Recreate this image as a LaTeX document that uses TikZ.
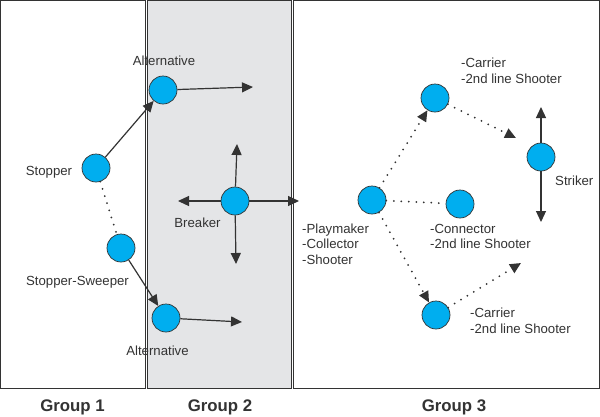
\documentclass[tikz,border=0pt]{standalone}
\usepackage{fontspec}
\setmainfont{Liberation Sans}
\usetikzlibrary{arrows.meta}
\definecolor{ink}{HTML}{333333}
\definecolor{ball}{HTML}{00AEEF}
\definecolor{zone}{HTML}{E4E5E7}
\begin{document}
\begin{tikzpicture}[x=1pt,y=-1pt,
  player/.style={circle,draw=ink,line width=0.7pt,fill=ball,minimum size=28pt,inner sep=0pt},
  lbl/.style={text=ink,font=\fontsize{13.2}{15.5}\selectfont,inner sep=0pt,align=left},
  grp/.style={text=ink,font=\fontsize{16.8}{18}\selectfont\bfseries,inner sep=0pt},
  zonebox/.style={draw=ink,line width=0.9pt},
  run/.style={draw=ink,line width=1.2pt,-{Triangle[length=11pt,width=10pt]}},
  pass/.style={draw=ink,line width=2pt,line cap=round,dash pattern=on 0pt off 7.5pt},
  passarrow/.style={pass,-{Triangle[length=11pt,width=10pt,line cap=butt]}}
]
\useasboundingbox (0,0) rectangle (600,416);
\fill[white] (0,0) rectangle (600,416);
% zones
\draw[zonebox] (0.5,0.5) rectangle (145,388);
\draw[zonebox,fill=zone] (147,0.5) rectangle (291,388);
\draw[zonebox] (293,0.5) rectangle (599,388);
\node[grp] (g1) at (72.5,407) {Group 1};
\node[grp] (g2) at (220,407) {Group 2};
\node[grp] (g3) at (454,407) {Group 3};
% players
\node[player] (altA) at (163,90) {};
\node[player] (stop) at (96,168) {};
\node[player] (sweep) at (121,248) {};
\node[player] (altB) at (166,318) {};
\node[player] (brk) at (235,201) {};
\node[player] (play) at (372,200) {};
\node[player] (conn) at (460,204) {};
\node[player] (carA) at (435,98) {};
\node[player] (carB) at (436,315) {};
\node[player] (strk) at (541,157) {};
% labels
\node[lbl] (lAltA) at (164,61) {Alternative};
\node[lbl] (lStop) at (49,172) {Stopper};
\node[lbl] (lSweep) at (77.5,282) {Stopper-Sweeper};
\node[lbl] (lAltB) at (157.5,351) {Alternative};
\node[lbl] (lBrk) at (197.5,223) {Breaker};
\node[lbl,anchor=west] (lCarA) at (461,71) {-Carrier\\-2nd line Shooter};
\node[lbl,anchor=west] (lStrk) at (555,181) {Striker};
\node[lbl,anchor=west] (lPlay) at (302,244) {-Playmaker\\-Collector\\-Shooter};
\node[lbl,anchor=west] (lConn) at (430,236.5) {-Connector\\-2nd line Shooter};
\node[lbl,anchor=west] (lCarB) at (470,321) {-Carrier\\-2nd line Shooter};
% free ends
\coordinate (eAltA) at (253,87);
\coordinate (eAltB) at (242,322);
\coordinate (bUp) at (237,144);
\coordinate (bLeft) at (178,201);
\coordinate (bRight) at (299,201);
\coordinate (bDown) at (236,264);
\coordinate (sUp) at (541,107);
\coordinate (sDown) at (541,222);
\coordinate (eCarA) at (516,138);
\coordinate (eCarB) at (521,263);
% runs
\draw[run] (altA) -- (eAltA);
\draw[run] (altB) -- (eAltB);
\draw[run] (stop) -- (altA);
\draw[run] (sweep) -- (altB);
\draw[run] (brk) -- (bUp);
\draw[run] (brk) -- (bLeft);
\draw[run] (brk) -- (bRight);
\draw[run] (brk) -- (bDown);
\draw[run] (strk) -- (sUp);
\draw[run] (strk) -- (sDown);
% passes
\draw[pass] (stop) -- (sweep);
\draw[pass] (play) -- (conn);
\draw[passarrow] (play) -- (carA);
\draw[passarrow] (play) -- (carB);
\draw[passarrow] (carA) -- (eCarA);
\draw[passarrow] (carB) -- (eCarB);
\end{tikzpicture}
\end{document}
